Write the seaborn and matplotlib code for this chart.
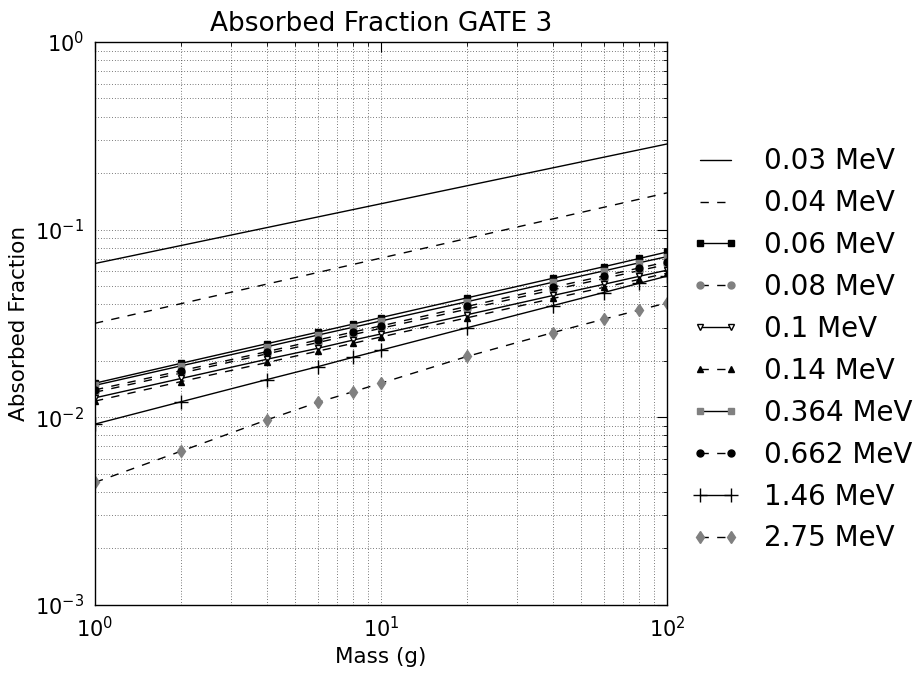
import numpy as np
import pandas as pd
import seaborn as sns
import matplotlib
matplotlib.use("Agg")
import matplotlib.pyplot as plt

masses = [1, 2, 4, 6, 8, 10, 20, 40, 60, 80, 100]
fit_masses = [1, 100]

af_003 = [0.066, 0.286]
af_004 = [0.0317, 0.157]
af_006 = [0.0152, 0.0194, 0.0247, 0.0284, 0.0314, 0.0340, 0.0433, 0.0551, 0.0634, 0.0702, 0.0760]
af_008 = [0.0136, 0.0172, 0.0218, 0.0250, 0.0276, 0.0298, 0.0377, 0.0478, 0.0548, 0.0605, 0.0652]
af_01 = [0.0127, 0.0161, 0.0204, 0.0233, 0.0258, 0.0278, 0.0352, 0.0446, 0.0511, 0.0564, 0.0608]
af_014 = [0.0122, 0.0155, 0.0196, 0.0225, 0.0248, 0.0268, 0.0339, 0.0430, 0.0492, 0.0543, 0.0586]
af_0364 = [0.0148, 0.0188, 0.0238, 0.0274, 0.0302, 0.0326, 0.0413, 0.0525, 0.0602, 0.0666, 0.0718]
af_0662 = [0.0140, 0.0177, 0.0224, 0.0258, 0.0285, 0.0307, 0.0390, 0.0494, 0.0566, 0.0625, 0.0672]
af_146 = [0.0092, 0.0121, 0.0159, 0.0186, 0.0209, 0.0228, 0.0300, 0.0394, 0.0462, 0.0518, 0.0565]
af_275 = [0.0045, 0.0066, 0.0097, 0.0120, 0.0137, 0.0152, 0.0211, 0.0283, 0.0333, 0.0373, 0.0407]

SOLID = "-"
DASH = (0, (6, 6))

# label, x, y, linestyle, marker, marker colour, marker size
series = [
    ("0.03 MeV", fit_masses, af_003, SOLID, None, "k", 0),
    ("0.04 MeV", fit_masses, af_004, DASH, None, "k", 0),
    ("0.06 MeV", masses, af_006, SOLID, "s", "k", 5),
    ("0.08 MeV", masses, af_008, DASH, "o", "0.5", 5),
    ("0.1 MeV", masses, af_01, SOLID, "v", "w", 5),
    ("0.14 MeV", masses, af_014, DASH, "^", "k", 5),
    ("0.364 MeV", masses, af_0364, SOLID, "s", "0.5", 5),
    ("0.662 MeV", masses, af_0662, DASH, "o", "k", 5),
    ("1.46 MeV", masses, af_146, SOLID, "+", "k", 10),
    ("2.75 MeV", masses, af_275, DASH, "d", "0.5", 6),
]

sns.set_style("white")
plt.rcParams["font.family"] = ["DejaVu Sans"]
plt.rcParams["text.color"] = "k"
plt.rcParams["axes.labelcolor"] = "k"
plt.rcParams["xtick.color"] = "k"
plt.rcParams["ytick.color"] = "k"

fig = plt.figure(figsize=(9.23, 6.77), dpi=100)
ax = fig.add_axes([0.1029, 0.1064, 0.6197, 0.8316])

for label, x, y, ls, mk, mc, ms in series:
    df = pd.DataFrame({"mass": x, "af": y})
    edge = "k" if mc == "w" else mc
    sns.lineplot(data=df, x="mass", y="af", ax=ax, color="k", linestyle=ls,
                 linewidth=1.0, marker=mk, markersize=ms, markerfacecolor=mc,
                 markeredgecolor=edge, markeredgewidth=1.0, label=label)

ax.set_xscale("log")
ax.set_yscale("log")
ax.set_xlim(1, 100)
ax.set_ylim(1e-3, 1)
ax.grid(True, which="both", color="k", linestyle=(0, (1, 3)), linewidth=0.5)
ax.tick_params(which="both", direction="in", top=True, right=True, labelsize=15,
               colors="k")
ax.tick_params(which="major", length=7, pad=8)
ax.tick_params(which="minor", length=3)
for sp in ax.spines.values():
    sp.set_color("k")
    sp.set_linewidth(1.0)

ax.set_title("Absorbed Fraction GATE 3", fontsize=19, color="k", pad=8)
ax.set_xlabel("Mass (g)", fontsize=15.5)
ax.set_ylabel("Absorbed Fraction", fontsize=15.5)

ax.legend(loc="center left", bbox_to_anchor=(1.0, 0.453), frameon=False,
          fontsize=20, handlelength=1.7, handletextpad=0.9, labelspacing=0.5,
          numpoints=2)

fig.savefig("out.png", dpi=100)
